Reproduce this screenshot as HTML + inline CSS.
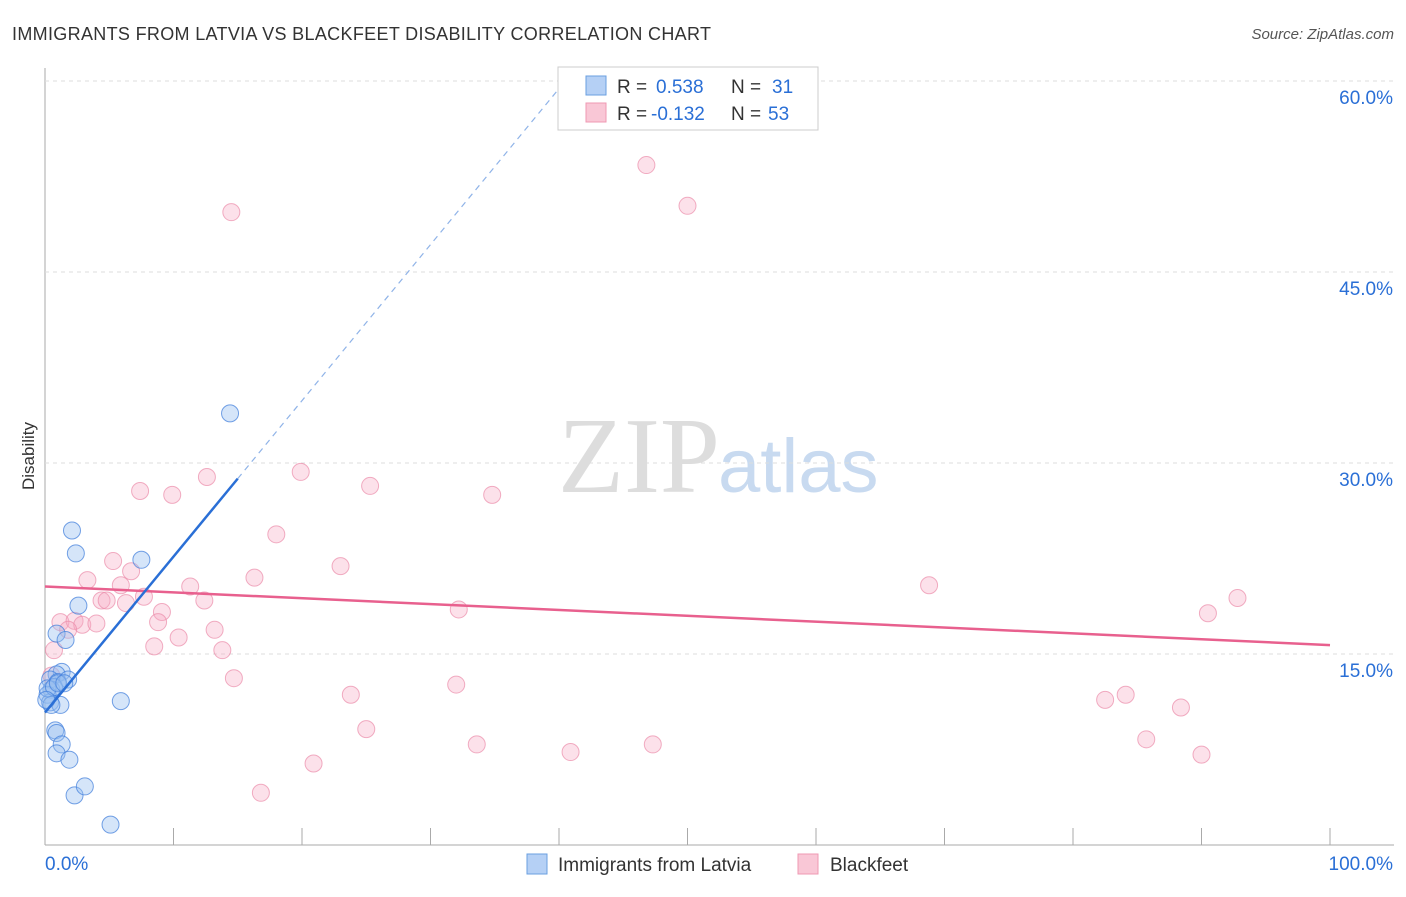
<!DOCTYPE html>
<html><head><meta charset="utf-8"><style>
body{margin:0;background:#fff;font-family:"Liberation Sans",sans-serif}
</style></head><body>
<svg id="c" width="1406" height="892" xmlns="http://www.w3.org/2000/svg" style="font-family:'Liberation Sans',sans-serif">
<text x="12" y="40" font-size="18" fill="#333" textLength="699" lengthAdjust="spacing">IMMIGRANTS FROM LATVIA VS BLACKFEET DISABILITY CORRELATION CHART</text>
<text x="1394" y="39" font-size="15" fill="#555" font-style="italic" text-anchor="end">Source: ZipAtlas.com</text>
<text x="34" y="456" font-size="17" fill="#333" transform="rotate(-90 34 456)" text-anchor="middle">Disability</text>
<text x="720" y="492" font-size="108" fill="#ddd" text-anchor="end" font-family="Liberation Serif">ZIP</text>
<text x="718" y="492" font-size="76" fill="#c8daf0">atlas</text>
<g id="grid"></g><g id="marks"></g>
<g>
<rect x="558" y="67" width="260" height="63" fill="#fff" stroke="#ccc"/>
<rect x="586" y="76" width="20" height="19" fill="#b5d0f5" stroke="#6a9fe0"/>
<rect x="586" y="103" width="20" height="19" fill="#f9c7d6" stroke="#ef98b3"/>
<text x="617" y="93" font-size="19" fill="#333">R = <tspan x="656" fill="#2a6fd6">0.538</tspan><tspan x="731">N = </tspan><tspan x="772" fill="#2a6fd6">31</tspan></text>
<text x="617" y="120" font-size="19" fill="#333">R = <tspan x="651" fill="#2a6fd6">-0.132</tspan><tspan x="731">N = </tspan><tspan x="768" fill="#2a6fd6">53</tspan></text>
</g>
<g>
<rect x="527" y="854" width="20" height="20" fill="#b5d0f5" stroke="#6a9fe0"/>
<text x="558" y="871" font-size="19" fill="#333">Immigrants from Latvia</text>
<rect x="798" y="854" width="20" height="20" fill="#f9c7d6" stroke="#ef98b3"/>
<text x="830" y="871" font-size="19" fill="#333">Blackfeet</text>
</g>
</svg>
<script>
const yTicks=[15,30,45,60];
const xLabels=["0.0%","100.0%"];
const blueX=[2.1,2.4,7.5,14.4,2.6,0.9,1.6,1.3,0.9,0.4,1.0,1.8,0.5,0.2,0.4,1.2,0.5,5.9,0.8,0.9,1.3,0.9,1.9,2.3,3.1,5.1,0.2,0.7,0.1,1.0,1.5];
const blueY=[24.7,22.9,22.4,33.9,18.8,16.6,16.1,13.6,13.4,13.0,12.8,13.0,12.2,11.8,11.2,11.0,11.0,11.3,9.0,8.8,7.9,7.2,6.7,3.9,4.6,1.6,12.3,12.4,11.4,12.7,12.7];
const pinkX=[46.8,50.0,14.5,12.6,7.4,9.9,19.9,25.3,34.8,18.0,5.3,23.0,6.7,16.3,3.3,11.3,5.9,7.7,68.8,92.8,4.4,6.3,4.8,12.4,9.1,32.2,90.5,1.2,2.3,2.9,4.0,8.8,13.2,1.8,10.4,8.5,13.8,0.7,14.7,23.8,32.0,82.5,84.1,88.4,25.0,33.6,40.9,47.3,85.7,90.0,20.9,16.8,0.5];
const pinkY=[53.4,50.2,49.7,28.9,27.8,27.5,29.3,28.2,27.5,24.4,22.3,21.9,21.5,21.0,20.8,20.3,20.4,19.5,20.4,19.4,19.2,19.0,19.2,19.2,18.3,18.5,18.2,17.5,17.6,17.3,17.4,17.5,16.9,16.9,16.3,15.6,15.3,15.3,13.1,11.8,12.6,11.4,11.8,10.8,9.1,7.9,7.3,7.9,8.3,7.1,6.4,4.1,13.3];
const blueTrend=[10.4,1.225]; const pinkTrend=[20.3,-0.046];
const X=v=>45+v*12.85, Y=v=>845-v*12.733;
const NS="http://www.w3.org/2000/svg";
function mk(p,t,a){const e=document.createElementNS(NS,t);for(const k in a)e.setAttribute(k,a[k]);p.appendChild(e);return e;}
const g=document.getElementById('grid'),m=document.getElementById('marks');
let ax=mk(g,'line',{x1:45,y1:68,x2:45,y2:845,stroke:'#aaa'});


let bx=mk(g,'line',{x1:45,y1:845,x2:1394,y2:845,stroke:'#aaa'});


for(let i=1;i<=10;i++){const t=mk(g,'line',{x1:X(i*10),y1:828,x2:X(i*10),y2:845,stroke:'#aaa'});

}
yTicks.forEach(v=>{const l=mk(g,'line',{x1:45,y1:Y(v),x2:1394,y2:Y(v),stroke:'#ddd','stroke-dasharray':'4,4'});


const t=mk(g,'text',{x:1393,y:Y(v)+23,'font-size':19,fill:'#2a6fd6','text-anchor':'end'});t.textContent=v.toFixed(1)+'%';

});
xLabels.forEach((s,i)=>{const t=mk(g,'text',{x:i?1393:45,y:870,'font-size':19,fill:'#2a6fd6','text-anchor':i?'end':'start'});t.textContent=s;

});
pinkX.forEach((x,i)=>{const c=mk(m,'circle',{cx:X(x),cy:Y(pinkY[i]),r:8.5,fill:'rgba(246,170,195,0.35)',stroke:'rgba(235,140,170,0.7)'});

});
blueX.forEach((x,i)=>{const c=mk(m,'circle',{cx:X(x),cy:Y(blueY[i]),r:8.5,fill:'rgba(150,190,240,0.4)',stroke:'rgba(70,130,220,0.75)'});

});
let pl=mk(m,'line',{x1:X(0),y1:Y(pinkTrend[0]),x2:X(100),y2:Y(pinkTrend[0]+pinkTrend[1]*100),stroke:'#e8608e','stroke-width':2.5});


let bl=mk(m,'line',{x1:X(0),y1:Y(blueTrend[0]),x2:X(15),y2:Y(blueTrend[0]+blueTrend[1]*15),stroke:'#2a6fd6','stroke-width':2.5});


let bd=mk(m,'line',{x1:X(15),y1:Y(blueTrend[0]+blueTrend[1]*15),x2:X(40.4),y2:Y(blueTrend[0]+blueTrend[1]*40.4),stroke:'#8fb3e8','stroke-width':1.2,'stroke-dasharray':'6,5'});


</script>
</body></html>
